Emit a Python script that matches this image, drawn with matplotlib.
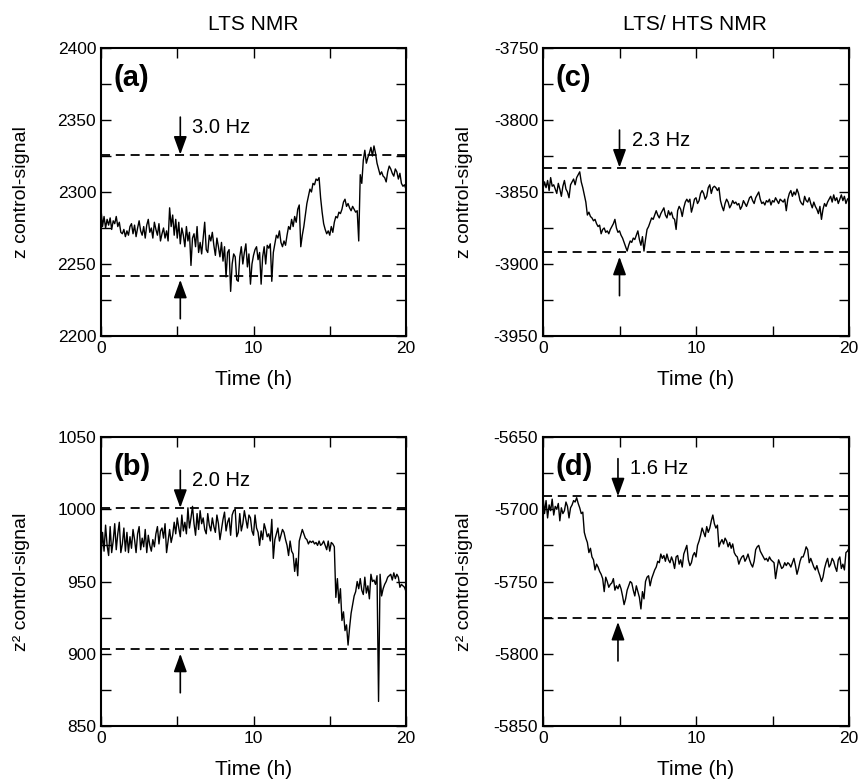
import numpy as np
import matplotlib
matplotlib.use("Agg")
import matplotlib.pyplot as plt
from matplotlib.ticker import MultipleLocator

plt.rcParams['font.family'] = ['Liberation Sans', 'DejaVu Sans']
plt.rcParams['axes.unicode_minus'] = False

# time axis, one reading every 0.1 h
time = np.linspace(0, 20, 201)

# (a) LTS NMR, z control-signal
sig_a = [2288, 2276, 2283, 2275, 2281, 2277, 2282, 2274, 2280, 2278,
         2283, 2276, 2279, 2272, 2271, 2274, 2269, 2273, 2270, 2276,
         2278, 2271, 2277, 2269, 2275, 2280, 2273, 2270, 2276, 2268,
         2277, 2281, 2272, 2275, 2268, 2279, 2274, 2270, 2278, 2266,
         2271, 2275, 2268, 2273, 2266, 2289, 2276, 2284, 2270, 2281,
         2268, 2279, 2264, 2275, 2270, 2262, 2276, 2266, 2272, 2249,
         2268, 2271, 2262, 2276, 2258, 2265, 2257, 2268, 2279, 2260,
         2258, 2270, 2266, 2272, 2263, 2256, 2268, 2262, 2255, 2265,
         2252, 2262, 2241, 2258, 2260, 2231, 2250, 2257, 2255, 2239,
         2238, 2255, 2262, 2250, 2258, 2264, 2248, 2257, 2236, 2250,
         2256, 2260, 2262, 2253, 2258, 2236, 2255, 2262, 2250, 2263,
         2261, 2264, 2238, 2258, 2264, 2270, 2268, 2273, 2265, 2262,
         2266, 2263, 2270, 2276, 2274, 2281, 2276, 2283, 2279, 2288,
         2291, 2262, 2270, 2276, 2284, 2292, 2297, 2302, 2300, 2306,
         2305, 2309, 2308, 2310, 2296, 2286, 2278, 2274, 2271, 2273,
         2270, 2276, 2272, 2279, 2283, 2282, 2286, 2285, 2288, 2293,
         2295, 2290, 2292, 2289, 2287, 2290, 2288, 2286, 2287, 2266,
         2312, 2306, 2322, 2329, 2320, 2324, 2327, 2331, 2325, 2332,
         2327, 2320, 2316, 2312, 2314, 2311, 2310, 2307, 2314, 2318,
         2316, 2313, 2311, 2316, 2314, 2309, 2313, 2306, 2304, 2305,
         2302]

# (b) LTS NMR, z2 control-signal
sig_b = [967, 984, 971, 989, 975, 968, 988, 970, 978, 990,
         972, 983, 991, 970, 976, 987, 971, 984, 970, 981,
         973, 986, 979, 970, 983, 988, 972, 980, 974, 986,
         970, 982, 975, 971, 979, 974, 983, 988, 976, 985,
         987, 980, 990, 970, 978, 986, 977, 982, 991, 983,
         994, 987, 981, 996, 985, 991, 983, 1001, 987, 994,
         1002, 990, 982, 997, 986, 999, 990, 994, 986, 983,
         997, 989, 985, 994, 988, 984, 996, 990, 979, 986,
         993, 998, 985, 991, 994, 982, 996, 999, 1000, 981,
         984, 997, 985, 990, 999, 993, 987, 996, 994, 985,
         982, 996, 987, 984, 975, 985, 979, 990, 986, 981,
         983, 978, 993, 966, 979, 983, 987, 978, 982, 986,
         984, 979, 975, 968, 978, 971, 969, 957, 966, 954,
         978, 982, 986, 983, 980, 979, 976, 978, 977, 978,
         976, 977, 975, 978, 975, 976, 978, 975, 972, 978,
         971, 977, 976, 974, 939, 952, 935, 945, 923, 929,
         916, 920, 906, 918, 928, 934, 940, 943, 950, 945,
         952, 944, 941, 953, 942, 947, 938, 955, 950, 951,
         948, 954, 867, 955, 940, 945, 948, 950, 953, 954,
         955, 951, 956, 952, 955, 953, 946, 948, 947, 946,
         943]

# (c) LTS/HTS NMR, z control-signal
sig_c = [-3848, -3843, -3847, -3842, -3849, -3840, -3846, -3845, -3848, -3851,
         -3844, -3848, -3853, -3846, -3842, -3848, -3850, -3854, -3845, -3843,
         -3841, -3845, -3840, -3838, -3836, -3843, -3847, -3852, -3857, -3866,
         -3864, -3867, -3868, -3870, -3869, -3872, -3874, -3873, -3879, -3876,
         -3875, -3878, -3877, -3879, -3876, -3874, -3872, -3869, -3875, -3878,
         -3877, -3880, -3882, -3885, -3888, -3891, -3887, -3884, -3885, -3882,
         -3883, -3880, -3877, -3883, -3887, -3881, -3891, -3883, -3876, -3874,
         -3871, -3868, -3869, -3866, -3863, -3866, -3868, -3865, -3863, -3861,
         -3866, -3868, -3863, -3866, -3864, -3868, -3869, -3876, -3863, -3860,
         -3862, -3867, -3861, -3857, -3855, -3857, -3855, -3864, -3860, -3855,
         -3854, -3858, -3856, -3851, -3849, -3851, -3855, -3853, -3847, -3845,
         -3851, -3847, -3846, -3847, -3849, -3847, -3856, -3860, -3863, -3858,
         -3855, -3857, -3861, -3859, -3856, -3858, -3857, -3859, -3858, -3862,
         -3860, -3856, -3858, -3860, -3857, -3854, -3853, -3856, -3858, -3854,
         -3852, -3850, -3855, -3858, -3857, -3859, -3856, -3857, -3855, -3859,
         -3856, -3857, -3854, -3856, -3858, -3855, -3856, -3857, -3855, -3863,
         -3855, -3851, -3849, -3853, -3850, -3852, -3848, -3851, -3856, -3858,
         -3859, -3853, -3856, -3857, -3854, -3858, -3861, -3857, -3860, -3862,
         -3865, -3860, -3869, -3862, -3858, -3860, -3857, -3855, -3853, -3857,
         -3852, -3856, -3854, -3858, -3855, -3852, -3856, -3853, -3858, -3855,
         -3854]

# (d) LTS/HTS NMR, z2 control-signal
sig_d = [-5691, -5703, -5694, -5706, -5697, -5701, -5693, -5704, -5698, -5700,
         -5696, -5708, -5699, -5703, -5701, -5695, -5698, -5706, -5699, -5697,
         -5694, -5695, -5692, -5696, -5699, -5703, -5702, -5716, -5720, -5723,
         -5730, -5727, -5733, -5735, -5742, -5738, -5740, -5743, -5745, -5748,
         -5757, -5747, -5750, -5754, -5752, -5751, -5748, -5756, -5753, -5755,
         -5752, -5755, -5760, -5766, -5762, -5756, -5753, -5750, -5751, -5756,
         -5760, -5753, -5757, -5761, -5769, -5757, -5762, -5750, -5747, -5746,
         -5753, -5748, -5745, -5742, -5740, -5736, -5737, -5731, -5734, -5732,
         -5736, -5731, -5735, -5737, -5733, -5736, -5741, -5733, -5732, -5738,
         -5735, -5740, -5731, -5728, -5725, -5735, -5739, -5737, -5732, -5730,
         -5733, -5725, -5722, -5718, -5713, -5716, -5719, -5712, -5716, -5713,
         -5708, -5704, -5710, -5713, -5711, -5726, -5723, -5721, -5724, -5720,
         -5722, -5726, -5723, -5727, -5724, -5730, -5732, -5733, -5738, -5735,
         -5733, -5732, -5736, -5734, -5731, -5735, -5738, -5740, -5736, -5728,
         -5726, -5725, -5729, -5731, -5733, -5735, -5734, -5736, -5733, -5735,
         -5736, -5737, -5748, -5741, -5735, -5738, -5741, -5740, -5737, -5739,
         -5737, -5738, -5740, -5737, -5734, -5739, -5745, -5741, -5736, -5733,
         -5733, -5730, -5726, -5728, -5737, -5734, -5737, -5740, -5742, -5739,
         -5743, -5746, -5750, -5747, -5741, -5737, -5734, -5740, -5738, -5734,
         -5736, -5740, -5743, -5735, -5733, -5741, -5738, -5742, -5730, -5729,
         -5727]

labels = ['(a)', '(b)', '(c)', '(d)']
ylims = [(2200, 2400), (850, 1050), (-3950, -3750), (-5850, -5650)]
bands = [(2242, 2326), (903, 1001), (-3892, -3833), (-5775, -5691)]
widths = ['3.0 Hz', '2.0 Hz', '2.3 Hz', '1.6 Hz']
arrow_x = [5.2, 5.2, 5.0, 4.9]
ylabels = ['z control-signal', 'z\u00b2 control-signal', 'z control-signal', 'z\u00b2 control-signal']
signals = [sig_a, sig_b, sig_c, sig_d]

fig = plt.figure(figsize=(8.58, 7.84), dpi=100)
W, H = 858, 784
boxes = [(101, 48, 305, 288), (101, 437, 305, 289), (543, 48, 306, 288), (543, 437, 306, 289)]
pads = [20, 20, 15, 15]

for i in range(4):
    x0, y0, w, h = boxes[i]
    ax = fig.add_axes([x0 / W, 1 - (y0 + h) / H, w / W, h / H])
    ax.plot(time, signals[i], color='k', lw=1.0)
    lo, hi = bands[i]
    ax.axhline(hi, color='k', lw=1.3, ls=(0, (5, 3.2)))
    ax.axhline(lo, color='k', lw=1.3, ls=(0, (5, 3.2)))
    ymin, ymax = ylims[i]
    span = ymax - ymin
    ax.set_xlim(0, 20)
    ax.set_ylim(ymin, ymax)
    xa = arrow_x[i]
    ap = dict(arrowstyle='-|>,head_length=0.55,head_width=0.2', color='k', lw=1.2,
              mutation_scale=20, shrinkA=0, shrinkB=0)
    ax.annotate('', xy=(xa, hi), xytext=(xa, hi + 0.13 * span), arrowprops=ap)
    ax.annotate('', xy=(xa, lo - 0.015 * span), xytext=(xa, lo - 0.15 * span), arrowprops=ap)
    ax.text(xa + 0.8, hi + 0.095 * span, widths[i], fontsize=14.5, va='center', ha='left')
    ax.text(0.04, 0.895, labels[i], transform=ax.transAxes, fontsize=21, fontweight='bold',
            va='center')
    ax.xaxis.set_major_locator(MultipleLocator(10))
    ax.xaxis.set_minor_locator(MultipleLocator(5))
    ax.yaxis.set_major_locator(MultipleLocator(50))
    ax.yaxis.set_minor_locator(MultipleLocator(25))
    ax.tick_params(which='both', direction='in', top=True, right=True, labelsize=12.5,
                   width=1, length=7)
    for s in ax.spines.values():
        s.set_linewidth(1.5)
    ax.set_xlabel('Time (h)', fontsize=15, labelpad=10)
    ax.set_ylabel(ylabels[i], fontsize=14, labelpad=pads[i])

fig.text(253 / W, 1 - 25 / H, 'LTS NMR', fontsize=15, ha='center', va='center')
fig.text(695 / W, 1 - 25 / H, 'LTS/ HTS NMR', fontsize=15, ha='center', va='center')

fig.savefig('out.png', dpi=100)
